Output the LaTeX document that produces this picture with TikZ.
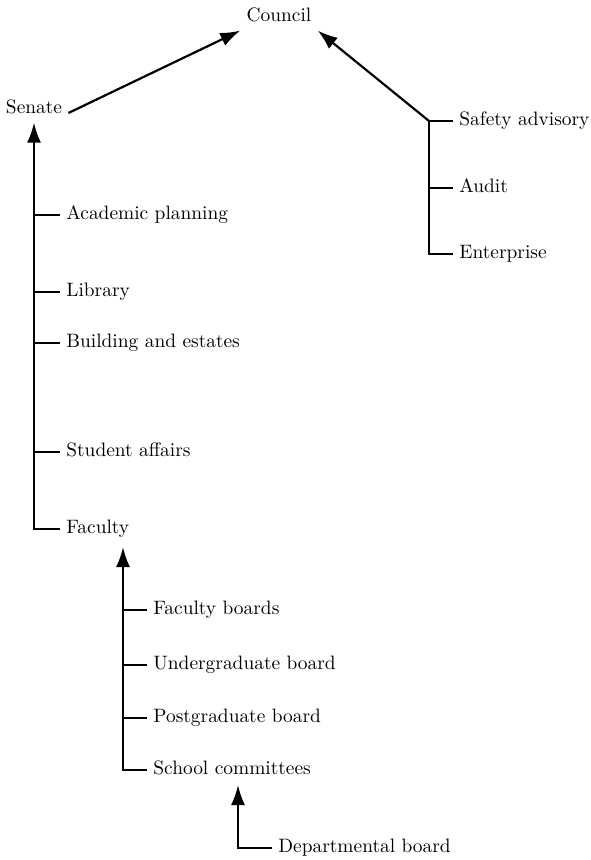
\documentclass[tikz,border=0pt]{standalone}
\usepackage{tikz}
\usetikzlibrary{arrows.meta,calc}

\tikzset{
  unit/.style={font=\fontsize{9.7}{11}\selectfont, text height=0.7em, text depth=0.22em, inner xsep=3pt, inner ysep=2pt},
  item/.style={unit, anchor=west},
  link/.style={line width=1.1pt},
  uparrow/.style={link, -{Latex[length=10pt,width=7pt]}}
}

\begin{document}
\begin{tikzpicture}[x=0.5pt,y=-0.5pt]
\useasboundingbox (0,0) rectangle (590,860);

\node[unit] (council) at (279,17) {Council};
\node[unit] (senate) at (34,109) {Senate};

\node[item] (safety) at (453,121) {Safety advisory};
\node[item] (audit) at (453,188) {Audit};
\node[item] (enterprise) at (453,254) {Enterprise};
\coordinate (rj) at (429,121);

\node[item] (acad) at (60,215) {Academic planning};
\node[item] (library) at (60,292) {Library};
\node[item] (estates) at (60,343) {Building and estates};
\node[item] (student) at (60,452) {Student affairs};
\node[item] (faculty) at (60,529) {Faculty};

\coordinate (facin) at (123,547);
\node[item] (fboards) at (147,610) {Faculty boards};
\node[item] (ugboard) at (147,665) {Undergraduate board};
\node[item] (pgboard) at (147,718) {Postgraduate board};
\node[item] (school) at (147,770) {School committees};

\coordinate (schin) at (238,785);
\node[item] (dept) at (272,848) {Departmental board};

\draw[uparrow] ([yshift=-2pt]senate.east) -- (council.south west);
\draw[uparrow] (rj) -- (council.south east);

\draw[link] (rj) -- (safety.west);
\draw[link] (rj |- audit.west) -- (audit.west);
\draw[link] (rj) |- (enterprise.west);

\draw[uparrow] (faculty.west) -| (senate.south);
\foreach \n in {acad,library,estates,student}
  \draw[link] (\n.west -| senate.south) -- (\n.west);

\draw[uparrow] (school.west) -| (facin);
\foreach \n in {fboards,ugboard,pgboard}
  \draw[link] (\n.west -| facin) -- (\n.west);

\draw[uparrow] (dept.west) -| (schin);
\end{tikzpicture}
\end{document}
